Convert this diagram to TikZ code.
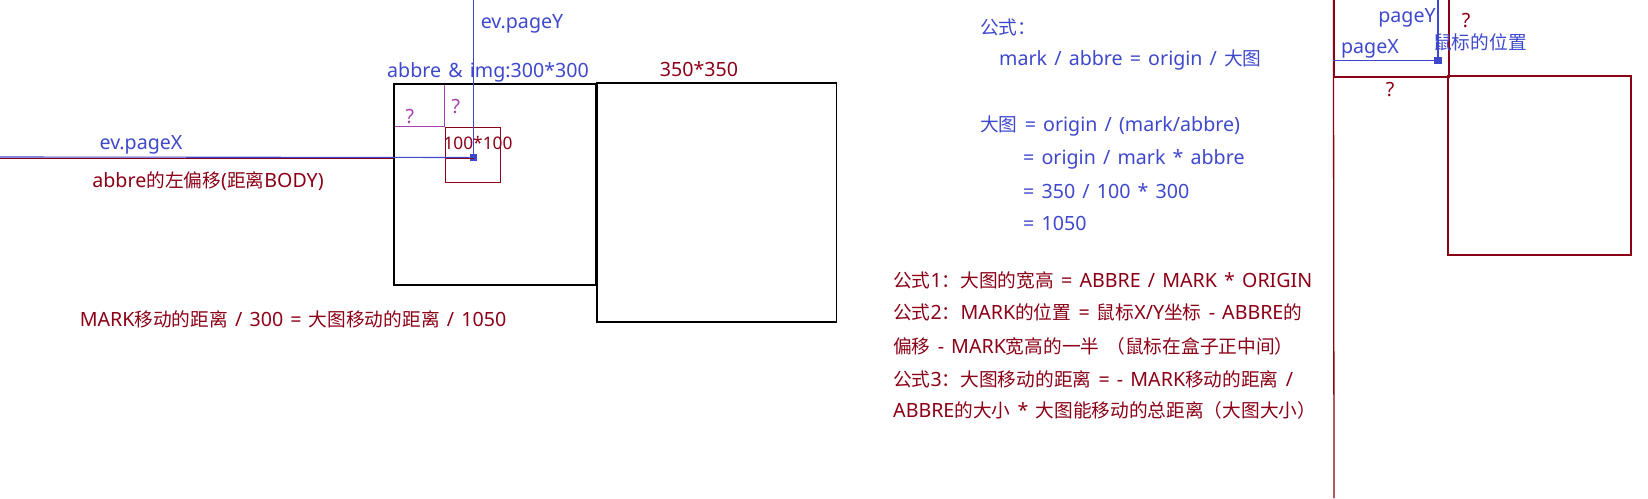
\documentclass[tikz,border=0pt]{standalone}
\usepackage{fontspec}
\setmainfont{Noto Sans}[Scale=1.05, WordSpace=1.4]
\newfontfamily\cjkfont{Noto Sans CJK SC}
\XeTeXinterchartokenstate=1
\newXeTeXintercharclass\cjkchars
\count255="3000
\loop
  \XeTeXcharclass\count255=\cjkchars
  \ifnum\count255<"9FFF \advance\count255 by 1 \repeat
\count255="FF00
\loop
  \XeTeXcharclass\count255=\cjkchars
  \ifnum\count255<"FFEF \advance\count255 by 1 \repeat
\XeTeXinterchartoks 0 \cjkchars = {\begingroup\cjkfont}
\XeTeXinterchartoks 4095 \cjkchars = {\begingroup\cjkfont}
\XeTeXinterchartoks \cjkchars 0 = {\endgroup}
\XeTeXinterchartoks \cjkchars 4095 = {\endgroup}
\usepackage{xcolor}
\usepackage{tikz}
\usetikzlibrary{positioning}
\definecolor{pgblue}{RGB}{62,72,204}
\definecolor{pgred}{RGB}{139,0,22}
\definecolor{pgpurple}{RGB}{168,64,176}
\tikzset{
  zoom box/.style={
    rectangle,
    draw=black,
    line width=1.2pt,
    inner sep=0pt,
  },
  red box/.style={
    rectangle,
    draw=pgred,
    line width=1.2pt,
    inner sep=0pt,
  },
  blue text/.style={text=pgblue, inner sep=0pt, font=\fontsize{18.7}{22}\selectfont},
  red text/.style={text=pgred, inner sep=0pt, font=\fontsize{18.7}{22}\selectfont},
  purple text/.style={text=pgpurple, inner sep=0pt, font=\fontsize{18.7}{22}\selectfont},
  cursor/.style={rectangle, fill=pgblue, minimum size=7.5pt, inner sep=0pt},
  blue line/.style={draw=pgblue, line width=1.1pt},
  red line/.style={draw=pgred, line width=1.3pt},
  purple line/.style={draw=pgpurple, line width=1.1pt},
}
\begin{document}
\begin{tikzpicture}[x=1pt, y=-1pt]
  \useasboundingbox (0,0) rectangle (1648,498);

  \node[zoom box, minimum width=202pt, minimum height=201pt] (abbre) at (495,184.5) {};
  \node[zoom box, minimum width=239.5pt, minimum height=239pt] (big) at (716.75,202.5) {};
  \node[red box, minimum width=55pt, minimum height=55pt] (mark) at (473,155) {};
  \node[cursor] (mouse) at (473.5,157.5) {};

  \coordinate (body) at (0,157);
  \coordinate (bodyred) at (0,158.8);
  \coordinate (top) at (473.5,0);
  \draw[red line] (bodyred) -- (bodyred -| abbre.west);
  \draw[red line] (bodyred -| mark.west) -- (bodyred -| mouse.center);
  \draw[blue line] (body) -- (mouse);
  \draw[blue line] (top) -- (mouse);
  \draw[purple line] ([xshift=2pt]abbre.west |- mark.north) -- (mark.north west);
  \draw[purple line] ([yshift=-2pt]mark.north west |- abbre.north) -- (mark.north west);

  \node[purple text] (qx) at (410,117) {?};
  \node[purple text] (qy) at (456,107) {?};
  \node[red text, font=\fontsize{16.5}{20}\selectfont] (size) at (478,143) {100*100};
  \node[blue text] (pagex) at (141,145) {ev.pageX};
  \node[red text] (offset) at (208,181) {abbre的左偏移(距离BODY)};
  \node[blue text] (pagey) at (522,24) {ev.pageY};
  \node[blue text] (abbrelbl) at (488,72) {abbre \& img:300*300};
  \node[red text] (biglbl) at (699,69) {350*350};
  \node[red text] (ratio) at (293,319) {MARK移动的距离 / 300 = 大图移动的距离 / 1050};

  \node[blue text, anchor=west] (g0) at (980,27) {公式：};
  \node[blue text, anchor=west] (g1) at (999,60) {mark / abbre = origin / 大图};
  \node[blue text, anchor=west] (g2) at (980,126) {大图 = origin / (mark/abbre)};
  \node[blue text, anchor=west] (g3) at (1023,159) {= origin / mark * abbre};
  \node[blue text, anchor=west] (g4) at (1023,191) {= 350 / 100 * 300};
  \node[blue text, anchor=west] (g5) at (1023,223) {= 1050};

  \node[red text, anchor=west] (f1) at (893,280) {公式1：大图的宽高 = ABBRE / MARK * ORIGIN};
  \node[red text, anchor=west] (f2) at (893,312) {公式2：MARK的位置 = 鼠标X/Y坐标 - ABBRE的};
  \node[red text, anchor=west] (f3) at (893,346) {偏移 - MARK宽高的一半 （鼠标在盒子正中间）};
  \node[red text, anchor=west] (f4) at (893,379) {公式3：大图移动的距离 = - MARK移动的距离 /};
  \node[red text, anchor=west] (f5) at (893,410) {ABBRE的大小 * 大图能移动的总距离（大图大小）};

  \node[red box, minimum width=115pt, minimum height=97pt] (page) at (1391.5,28.5) {};
  \node[red box, minimum width=183pt, minimum height=179pt] (view) at (1539.5,165.5) {};
  \node[cursor] (mouse2) at (1438,60.5) {};
  \coordinate (bottom) at (1334,498);
  \draw[red line] (page.north west) -- (bottom);
  \draw[blue line] (page.west |- mouse2) -- (mouse2);
  \draw[blue line] (page.north -| mouse2) -- (mouse2);

  \node[blue text] (py) at (1407,18) {pageY};
  \node[blue text] (px) at (1370,49) {pageX};
  \node[blue text] (pos) at (1480,42) {鼠标的位置};
  \node[red text] (q1) at (1466,21) {?};
  \node[red text] (q2) at (1390,90) {?};
\end{tikzpicture}
\end{document}
